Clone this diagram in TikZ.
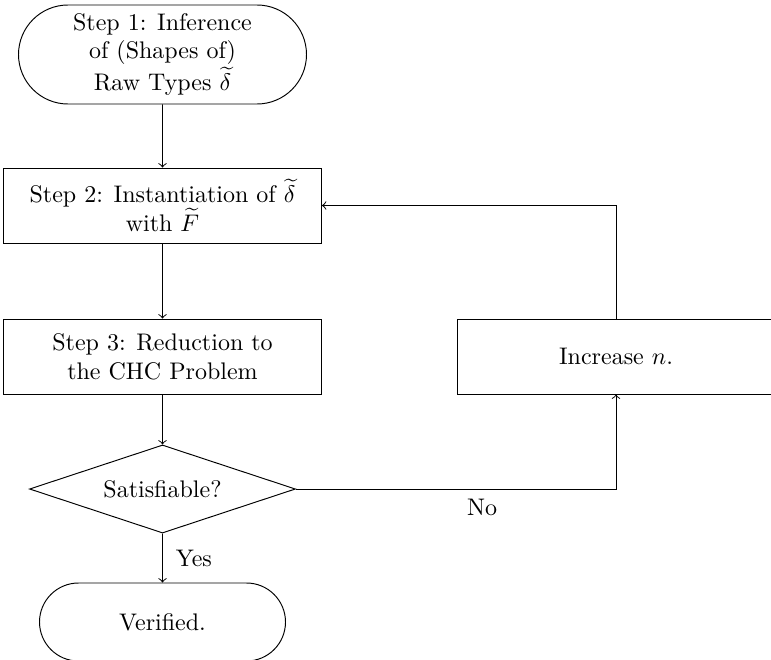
\documentclass[tikz,border=0pt]{standalone}
\usetikzlibrary{shapes.geometric,shapes.misc,arrows}
\begin{document}
\begin{tikzpicture}[x=0.41667pt,y=-0.41667pt,
  term/.style={draw,rounded rectangle,align=center,inner sep=0pt},
  stepbox/.style={draw,rectangle,align=center,minimum width=132.5pt,minimum height=31.25pt,inner sep=0pt},
  decide/.style={draw,diamond,aspect=3.02,minimum width=110.8pt,minimum height=36.7pt,inner sep=0pt},
  conn/.style={->}]
\useasboundingbox (0,0) rectangle (771,659);
\node[term,minimum width=120pt,minimum height=41.25pt] (s1) at (162.5,54.5) {Step 1: Inference\\ of (Shapes of)\\ Raw Types $\widetilde{\delta}$};
\node[stepbox] (s2) at (162.5,205.5) {Step 2: Instantiation of $\widetilde{\delta}$\\ with $\widetilde{F}$};
\node[stepbox] (s3) at (162.5,356.5) {Step 3: Reduction to\\ the CHC Problem};
\node[decide] (d) at (162.5,489) {Satisfiable?};
\node[term,minimum width=102.5pt,minimum height=32.5pt] (v) at (162.5,622) {Verified.};
\node[stepbox] (inc) at (616,356.5) {Increase $n$.};
\coordinate (c1) at (616,489);
\coordinate (c2) at (616,205.5);
\draw[conn] (s1) -- (s2);
\draw[conn] (s2) -- (s3);
\draw[conn] (s3) -- (d);
\draw[conn] (d) -- node[right,xshift=2pt] {Yes} (v);
\draw[conn] (d.east) -- (c1) -- (inc.south);
\node (no) at (482,507) {No};
\draw[conn] (inc.north) -- (c2) -- (s2.east);
\end{tikzpicture}
\end{document}
